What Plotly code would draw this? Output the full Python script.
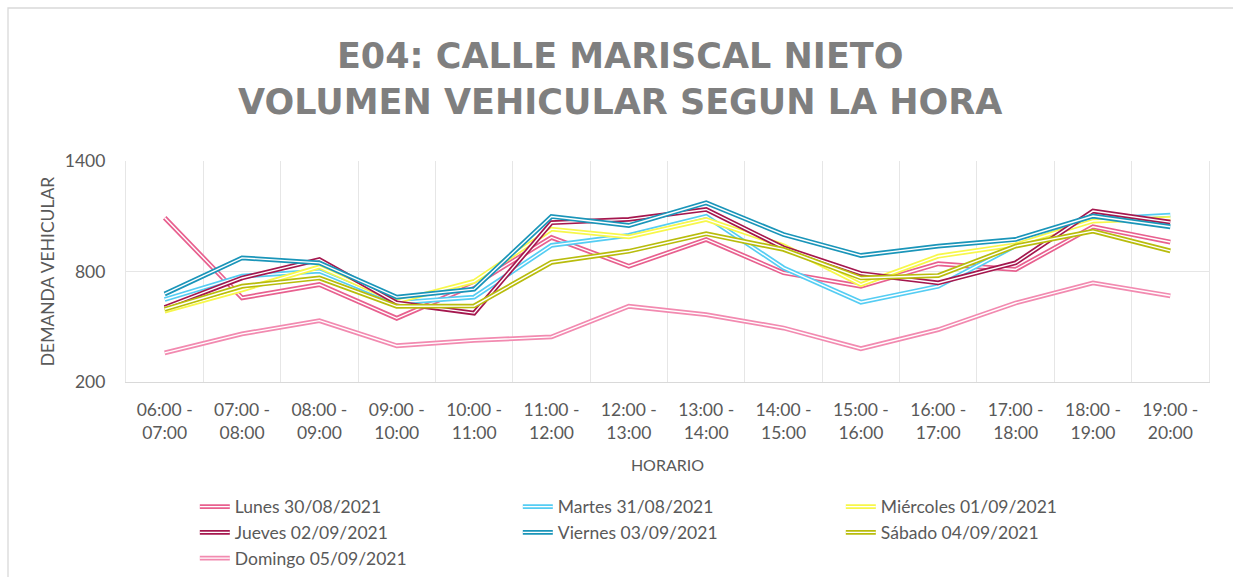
import plotly.graph_objects as go

# Hourly intervals on the horizontal axis
horarios = [
    "06:00 -<br>07:00", "07:00 -<br>08:00", "08:00 -<br>09:00", "09:00 -<br>10:00",
    "10:00 -<br>11:00", "11:00 -<br>12:00", "12:00 -<br>13:00", "13:00 -<br>14:00",
    "14:00 -<br>15:00", "15:00 -<br>16:00", "16:00 -<br>17:00", "17:00 -<br>18:00",
    "18:00 -<br>19:00", "19:00 -<br>20:00",
]

# Vehicle counts per interval, one list per survey day
lunes     = [1092, 657, 729, 546, 728, 985, 829, 974, 793, 720, 842, 811, 1043, 960]
martes    = [648, 775, 802, 630, 661, 942, 996, 1100, 820, 633, 720, 940, 1083, 1106]
miercoles = [585, 700, 825, 637, 746, 1030, 988, 1083, 940, 729, 883, 945, 1074, 1088]
jueves    = [605, 765, 865, 630, 574, 1065, 1083, 1137, 929, 789, 738, 847, 1128, 1068]
viernes   = [678, 874, 847, 661, 704, 1099, 1050, 1173, 1001, 887, 938, 974, 1101, 1043]
sabado    = [595, 720, 765, 611, 613, 850, 910, 1005, 920, 765, 778, 938, 1019, 912]
domingo   = [358, 461, 533, 397, 426, 445, 611, 566, 493, 381, 484, 629, 738, 668]

nombres = [
    "Lunes 30/08/2021", "Martes 31/08/2021", "Miércoles 01/09/2021",
    "Jueves 02/09/2021", "Viernes 03/09/2021", "Sábado 04/09/2021",
    "Domingo 05/09/2021",
]
valores = [lunes, martes, miercoles, jueves, viernes, sabado, domingo]
colores = ["#E8608F", "#55CDF3", "#F7F74A", "#A5174E", "#1A95B9", "#B8BC0C", "#F28AB0"]

FONT = "Lato"
GRIS = "#595959"

fig = go.Figure()

# Each series is drawn as a double line: a wide coloured stroke with a thin
# white stroke running down its middle.
for nombre, vals, color in zip(nombres, valores, colores):
    fig.add_trace(go.Scatter(
        x=horarios, y=vals, mode="lines", name=nombre,
        line=dict(color=color, width=4.8), legend="legend",
    ))
    fig.add_trace(go.Scatter(
        x=horarios, y=vals, mode="lines", name="",
        line=dict(color="white", width=1.4), legend="legend2",
        hoverinfo="skip",
    ))

legend_common = dict(
    orientation="h", xref="container", yref="container",
    x=0.158, y=0.153, xanchor="left", yanchor="top",
    entrywidth=278, entrywidthmode="pixels",
    itemwidth=30, bgcolor="rgba(0,0,0,0)", borderwidth=0,
    font=dict(family=FONT, size=17.5, color=GRIS),
    itemclick=False, itemdoubleclick=False,
)

fig.update_layout(
    width=1233, height=577,
    template="none",
    paper_bgcolor="white", plot_bgcolor="white",
    margin=dict(l=126, r=24, t=161, b=195, pad=0),
    title=dict(
        text="E04: CALLE MARISCAL NIETO<br>VOLUMEN VEHICULAR SEGUN LA HORA",
        x=0.503, xanchor="center", xref="container",
        y=0.882, yanchor="middle", yref="container",
        font=dict(family="DejaVu Sans", size=35, color="#7F7F7F", weight="bold"),
    ),
    legend=legend_common,
    legend2=legend_common,
    xaxis=dict(
        type="category", tickson="boundaries", range=[-0.5, 13.5],
        showgrid=True, gridcolor="#E6E6E6", gridwidth=1.3,
        showline=True, linecolor="#D9D9D9", linewidth=1.3,
        ticks="", ticklabelstandoff=12,
        tickfont=dict(family=FONT, size=17.5, color=GRIS),
        title=dict(text="HORARIO", font=dict(family=FONT, size=16, color=GRIS), standoff=17),
        automargin=False, fixedrange=True,
    ),
    yaxis=dict(
        range=[200, 1400], tickvals=[200, 800, 1400],
        showgrid=True, gridcolor="#E6E6E6", gridwidth=1.3,
        zeroline=False, showline=True, mirror=True,
        linecolor="#E6E6E6", linewidth=1.3,
        ticks="", ticklabelstandoff=16,
        tickfont=dict(family=FONT, size=17.5, color=GRIS),
        title=dict(text="DEMANDA VEHICULAR", font=dict(family=FONT, size=17.5, color=GRIS), standoff=5),
        automargin=False, fixedrange=True,
    ),
    shapes=[dict(
        type="rect", xref="paper", yref="paper",
        x0=(8 - 126) / 1083, x1=(1260 - 126) / 1083,
        y0=(382 - 600) / 221, y1=(382 - 8) / 221,
        line=dict(color="#D9D9D9", width=1.3), fillcolor="rgba(0,0,0,0)",
        layer="below",
    )],
    showlegend=True,
)

fig.write_html("out.html", config={"displayModeBar": False})
